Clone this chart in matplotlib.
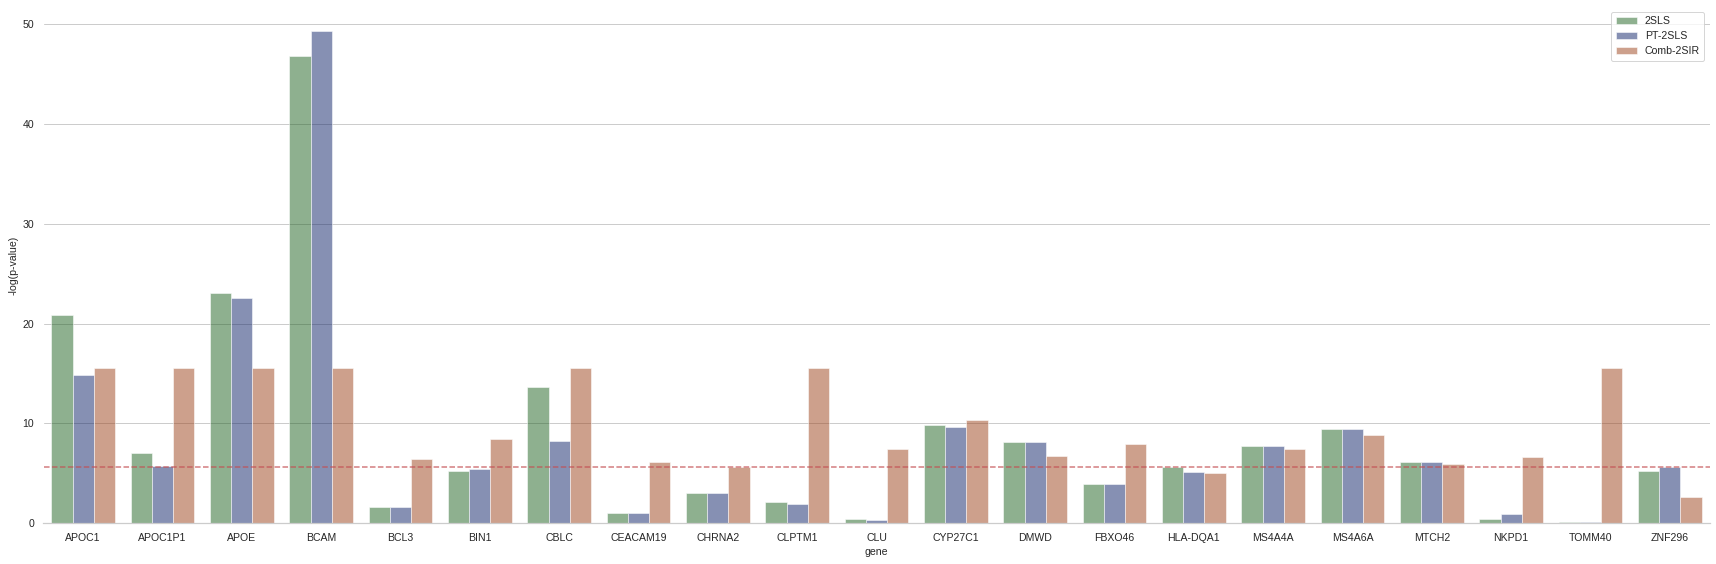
import matplotlib
matplotlib.use("Agg")
import matplotlib.pyplot as plt
import seaborn as sns
import pandas as pd

genes = ["APOC1", "APOC1P1", "APOE", "BCAM", "BCL3", "BIN1", "CBLC", "CEACAM19",
         "CHRNA2", "CLPTM1", "CLU", "CYP27C1", "DMWD", "FBXO46", "HLA-DQA1",
         "MS4A4A", "MS4A6A", "MTCH2", "NKPD1", "TOMM40", "ZNF296"]
methods = ["2SLS", "PT-2SLS", "Comb-2SIR"]
v_2sls = [20.9, 7.0, 23.1, 46.8, 1.6, 5.2, 13.7, 1.08, 3.0, 2.1, 0.47, 9.8, 8.1,
          3.9, 5.6, 7.7, 9.4, 6.1, 0.47, 0.1, 5.2]
v_pt = [14.9, 5.7, 22.6, 49.3, 1.6, 5.4, 8.2, 1.08, 3.0, 1.9, 0.36, 9.6, 8.1,
        3.9, 5.1, 7.7, 9.4, 6.1, 0.97, 0.1, 5.66]
v_comb = [15.6, 15.6, 15.6, 15.6, 6.4, 8.4, 15.6, 6.1, 5.6, 15.6, 7.4, 10.3, 6.7,
          7.9, 5.0, 7.4, 8.8, 5.95, 6.6, 15.6, 2.67]
threshold = 5.6

colors = ["#1f6221", "#0f2368", "#9d431b"]

sns.set_theme(style="whitegrid")
plt.rcParams["font.family"] = ["Liberation Sans", "DejaVu Sans"]
plt.rcParams["font.size"] = 10

df = pd.DataFrame({
    "gene": genes * 3,
    "value": v_2sls + v_pt + v_comb,
    "method": [m for m in methods for _ in genes],
})

fig = plt.figure(figsize=(1716 / 72, 564 / 72), dpi=72)
ax = fig.add_axes([43.5 / 1716, (564 - 523.3) / 564, 1666 / 1716, (523.3 - 6.5) / 564])
sns.barplot(data=df, x="gene", y="value", hue="method", hue_order=methods,
            palette=colors, alpha=0.5, saturation=1, ax=ax, errorbar=None,
            edgecolor="white", linewidth=1)
ax.axhline(threshold, color="#c44e52", alpha=0.75, linestyle="--", linewidth=1.5)
ax.set_xlabel("gene", fontsize=10.5)
ax.set_ylabel("-log(p-value)", fontsize=10.5)
ax.tick_params(axis="both", labelsize=10.5)
sns.despine(ax=ax, left=True)
ax.legend(loc="upper right", title=None, fontsize=10.5)
fig.savefig("out.png", dpi=72)
